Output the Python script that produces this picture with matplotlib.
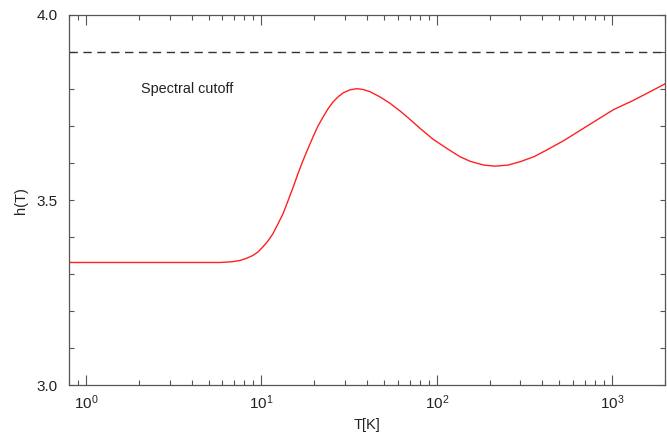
import matplotlib
matplotlib.use("Agg")
import matplotlib.pyplot as plt
from matplotlib.ticker import LogLocator, FixedLocator, FuncFormatter, NullFormatter

plt.rcParams['font.family'] = ['Liberation Sans', 'DejaVu Sans']

T = [0.8, 1, 2, 4.4, 5.8, 6.8, 7.5, 8.2, 8.95, 9.6, 10.2, 10.9, 11.65, 12.4, 13.3,
     14.2, 15.2, 16.2, 17.3, 18.5, 19.7, 21, 22.5, 24, 25.7, 27.5, 29.3, 32, 34.9,
     38, 41.6, 47.4, 54, 61.7, 70, 80.3, 95, 114, 135, 155, 185, 215, 255, 299,
     360, 425, 530, 659, 820, 1021, 1300, 1585, 2000]
h = [3.332, 3.332, 3.332, 3.332, 3.332, 3.334, 3.337, 3.343, 3.351, 3.361, 3.374,
     3.390, 3.410, 3.435, 3.464, 3.499, 3.536, 3.573, 3.608, 3.641, 3.671, 3.700,
     3.725, 3.747, 3.766, 3.780, 3.790, 3.798, 3.801, 3.799, 3.793, 3.779, 3.762,
     3.741, 3.719, 3.694, 3.665, 3.640, 3.618, 3.605, 3.595, 3.592, 3.595, 3.604,
     3.618, 3.636, 3.661, 3.689, 3.717, 3.745, 3.768, 3.789, 3.814]
cutoff = 3.9
cutoff_label = "Spectral cutoff"
x_label = "T[K]"
y_label = "h(T)"
y_labeled = [3.0, 3.5, 4.0]

fig = plt.figure(figsize=(6.67, 4.33), dpi=100)
ax = fig.add_axes([0.1034, 0.1097, 0.8936, 0.8557])
ax.plot(T, h, color='#ff2020', lw=1.0)
ax.axhline(cutoff, color='#333333', lw=1.0, ls=(0, (6, 4)))
ax.text(2.07, 3.80, cutoff_label, fontsize=10.4, color='#222222', va='center', ha='left')

ax.set_xscale('log')
ax.set_xlim(0.8, 2000)
ax.set_ylim(3.0, 4.0)

ax.xaxis.set_major_locator(LogLocator(base=10, numticks=10))
ax.xaxis.set_minor_locator(LogLocator(base=10, subs=range(2, 10), numticks=20))
ax.xaxis.set_minor_formatter(NullFormatter())
ax.yaxis.set_major_locator(FixedLocator([3.0 + 0.1 * i for i in range(11)]))
ax.yaxis.set_major_formatter(FuncFormatter(
    lambda v, p: f"{v:.1f}" if any(abs(v - y) < 1e-6 for y in y_labeled) else ""))

ax.tick_params(which='both', direction='in', top=True, right=True, color='#555555',
               labelsize=11, labelcolor='#222222', width=0.8)
ax.tick_params(which='major', axis='x', length=7.5)
ax.tick_params(which='minor', axis='x', length=3.5)
ax.tick_params(axis='y', length=3.5, pad=8)
ax.tick_params(axis='x', pad=6)
for s in ax.spines.values():
    s.set_color('#555555')
    s.set_linewidth(0.9)

ax.set_xlabel(x_label, fontsize=10.5, color='#222222', labelpad=4)
ax.set_ylabel(y_label, fontsize=10.5, color='#222222', labelpad=6)

fig.savefig("out.png", dpi=100)
